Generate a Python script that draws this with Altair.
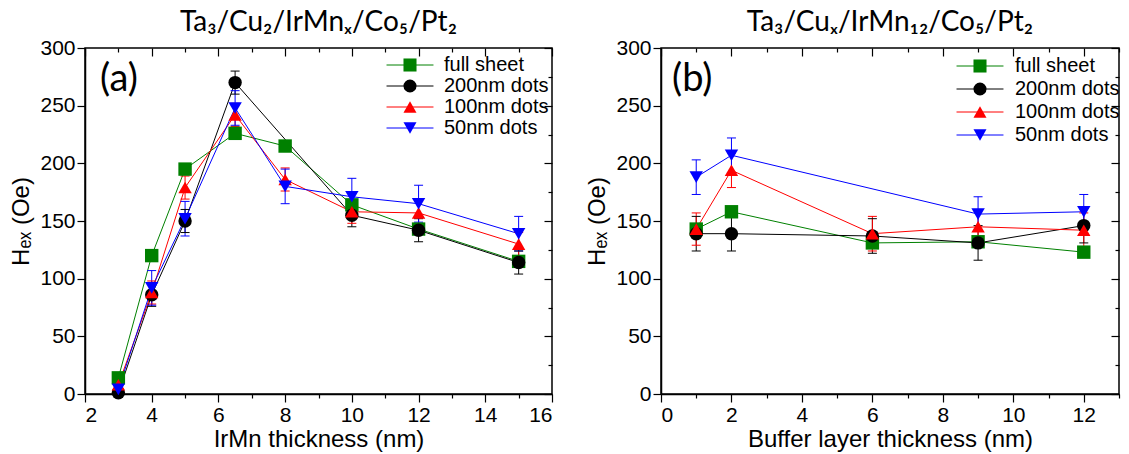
import altair as alt
import pandas as pd

series = ["full sheet", "200nm dots", "100nm dots", "50nm dots"]
colors = ["#008000", "#000000", "#ff0000", "#0000ff"]
shapes = ["square", "circle", "triangle-up", "triangle-down"]

# Panel (a): IrMn thickness (nm)
a_x_full = [3, 4, 5, 6.5, 8, 10, 12, 15]
a_full = [14, 120, 195, 226, 215, 164, 143, 115]
a_full_err = [0, 0, 0, 0, 0, 0, 0, 0]
a_x_200 = [3, 4, 5, 6.5, 10, 12, 15]
a_200 = [1, 86, 150, 270, 155, 142, 114]
a_200_err = [4, 10, 10, 10, 10, 10, 10]
a_x_100 = [3, 4, 5, 6.5, 8, 10, 12, 15]
a_100 = [8, 88, 179, 242, 186, 158, 157, 130]
a_100_err = [4, 10, 10, 10, 10, 10, 10, 10]
a_x_50 = [3, 4, 5, 6.5, 8, 10, 12, 15]
a_50 = [4, 92, 152, 248, 180, 171, 165, 139]
a_50_err = [4, 15, 15, 15, 15, 16, 16, 15]

# Panel (b): Buffer layer thickness (nm)
b_x_full = [1, 2, 6, 9, 12]
b_full = [143, 158, 131, 132, 123]
b_full_err = [0, 0, 0, 0, 0]
b_x_200 = [1, 2, 6, 9, 12]
b_200 = [139, 139, 137, 131, 146]
b_200_err = [15, 15, 15, 15, 15]
b_x_100 = [1, 2, 6, 9, 12]
b_100 = [143, 194, 139, 145, 142]
b_100_err = [14, 15, 15, 15, 15]
b_x_50 = [1, 2, 9, 12]
b_50 = [188, 207, 156, 158]
b_50_err = [15, 15, 15, 15]

title_a = "Ta\u2083/Cu\u2082/IrMn\u2093/Co\u2085/Pt\u2082"
title_b = "Ta\u2083/Cu\u2093/IrMn\u2081\u2082/Co\u2085/Pt\u2082"
y_title = "H\u2091\u2093 (Oe)"
y_ticks = list(range(0, 301, 25))

FONT = "Liberation Sans"
LINE_SYMBOL = "M-3.6,0H3.6"


def build_df(xs_list, ys_list, errs_list):
    rows = []
    for i, (s, xs, ys, es) in enumerate(zip(series, xs_list, ys_list, errs_list)):
        for x, y, e in zip(xs, ys, es):
            rows.append({"series": s, "name": s, "order": i, "x": x, "y": y, "err": e,
                         "lo": y - e, "hi": y + e})
    return pd.DataFrame(rows)


def panel(df, W, H, xdom, xticks, xlabel_step, xtitle, title, tag,
          leg_x, leg_y, row_pad, lab_off, tag_x):
    xscale = alt.Scale(domain=xdom, nice=False, zero=False)
    yscale = alt.Scale(domain=[0, 300], nice=False)
    major_x = f"datum.value % {xlabel_step} === 0"
    xaxis = alt.Axis(values=xticks, title=xtitle, grid=False,
                     labelExpr=f"{major_x} ? datum.label : ''",
                     tickSize={"condition": {"test": major_x, "value": 8}, "value": 4},
                     labelPadding=2, titlePadding=2)
    yaxis = alt.Axis(values=y_ticks, title=y_title, grid=False,
                     labelExpr="datum.value % 50 === 0 ? datum.label : ''",
                     tickSize={"condition": {"test": "datum.value % 50 === 0", "value": 8}, "value": 4},
                     labelPadding=2, titlePadding=6)
    base = alt.Chart(df)
    X = alt.X("x:Q", scale=xscale, axis=xaxis)
    Y = alt.Y("y:Q", scale=yscale, axis=yaxis)

    label_expr = "datum.label === '50nm dots' ? '\u2007' + datum.label : datum.label"
    line_sort = alt.EncodingSortField("order", op="min")
    # line legend: line-segment symbols with visible labels
    line_leg = alt.Legend(orient="none", legendX=leg_x, legendY=leg_y,
                          title=None, symbolType=LINE_SYMBOL, symbolSize=170,
                          symbolStrokeWidth=1, labelFont=FONT, labelFontSize=20,
                          labelColor="black", labelOffset=lab_off, padding=0,
                          rowPadding=row_pad, labelExpr=label_expr)
    stroke_enc = alt.Stroke("name:N", sort=line_sort, scale=alt.Scale(range=colors), legend=line_leg)
    lines = base.mark_line(strokeWidth=1).encode(x=X, y=Y, stroke=stroke_enc, detail="name:N")
    err_df = base.transform_filter("datum.err > 0")
    rules = err_df.mark_rule(strokeWidth=1).encode(x=X, y=alt.Y("lo:Q"), y2="hi:Q", stroke=stroke_enc)
    cap_lo = err_df.mark_point(shape="stroke", size=81, strokeWidth=1, opacity=1).encode(
        x=X, y=alt.Y("lo:Q"), stroke=stroke_enc)
    cap_hi = err_df.mark_point(shape="stroke", size=81, strokeWidth=1, opacity=1).encode(
        x=X, y=alt.Y("hi:Q"), stroke=stroke_enc)
    # marker legend overlaid on the line legend (labels hidden)
    mleg = alt.Legend(orient="none", legendX=leg_x, legendY=leg_y, title=None,
                      symbolSize=170, symbolStrokeWidth=0, labelFont=FONT, labelFontSize=20,
                      labelColor="transparent", labelOffset=lab_off, padding=0,
                      rowPadding=row_pad, labelExpr=label_expr)
    points = base.mark_point(filled=True, size=180, opacity=1, strokeWidth=0).encode(
        x=X, y=Y,
        color=alt.Color("series:N", scale=alt.Scale(domain=series, range=colors), legend=mleg),
        shape=alt.Shape("series:N", scale=alt.Scale(domain=series, range=shapes), legend=mleg))
    tag_df = pd.DataFrame({"t": [tag]})
    tag_mark = alt.Chart(tag_df).mark_text(font="Lato", fontSize=38, align="left",
                                           baseline="alphabetic", color="black").encode(
        text="t:N", x=alt.value(tag_x), y=alt.value(43))
    main = alt.layer(lines, rules, cap_lo, cap_hi, points, tag_mark)

    extra = base.mark_point(opacity=0).encode(
        x=alt.X("x:Q", scale=xscale,
                axis=alt.Axis(orient="bottom", offset=-H, values=xticks, labels=False,
                              domain=False, title=None, grid=False,
                              tickSize={"condition": {"test": major_x, "value": 8}, "value": 4})),
        y=alt.Y("y:Q", scale=yscale,
                axis=alt.Axis(orient="left", offset=-W, values=y_ticks, labels=False,
                              domain=False, title=None, grid=False,
                              tickSize={"condition": {"test": "datum.value % 50 === 0", "value": 8}, "value": 4})))
    return alt.layer(main, extra).resolve_axis(x="independent", y="independent").properties(
        width=W, height=H,
        title=alt.Title(title, font="Lato", fontSize=28, fontWeight="normal", color="black",
                        offset=0, anchor="middle"))


df_a = build_df([a_x_full, a_x_200, a_x_100, a_x_50], [a_full, a_200, a_100, a_50],
                 [a_full_err, a_200_err, a_100_err, a_50_err])
df_b = build_df([b_x_full, b_x_200, b_x_100, b_x_50], [b_full, b_200, b_100, b_50],
                 [b_full_err, b_200_err, b_100_err, b_50_err])

pa = panel(df_a, 467, 346, [2, 16], list(range(2, 17)), 2, "IrMn thickness (nm)", title_a,
           "(a)", 315, 7, 1, 24, 15)
pb = panel(df_b, 458, 346, [0, 13], list(range(0, 14)), 2, "Buffer layer thickness (nm)", title_b,
           "(b)", 309, 8, 3, 25, 11)

chart = alt.hconcat(pa, pb, spacing=31).resolve_scale(
    color="independent", fill="independent", shape="independent", stroke="independent",
    x="independent", y="independent").resolve_legend(
    color="independent", fill="independent", shape="independent", stroke="independent").properties(
    padding={"left": 1, "top": 0, "right": 0, "bottom": 0}
).configure_view(stroke="black", strokeWidth=1.5).configure_axis(
    labelFont=FONT, labelFontSize=21, labelColor="black", titleFont=FONT, titleFontSize=24,
    titleFontWeight="normal", titleColor="black", domainColor="black", domainWidth=1.5,
    tickColor="black", tickWidth=1.2)

chart.save("out.html", embed_options={"renderer": "svg", "actions": False})
